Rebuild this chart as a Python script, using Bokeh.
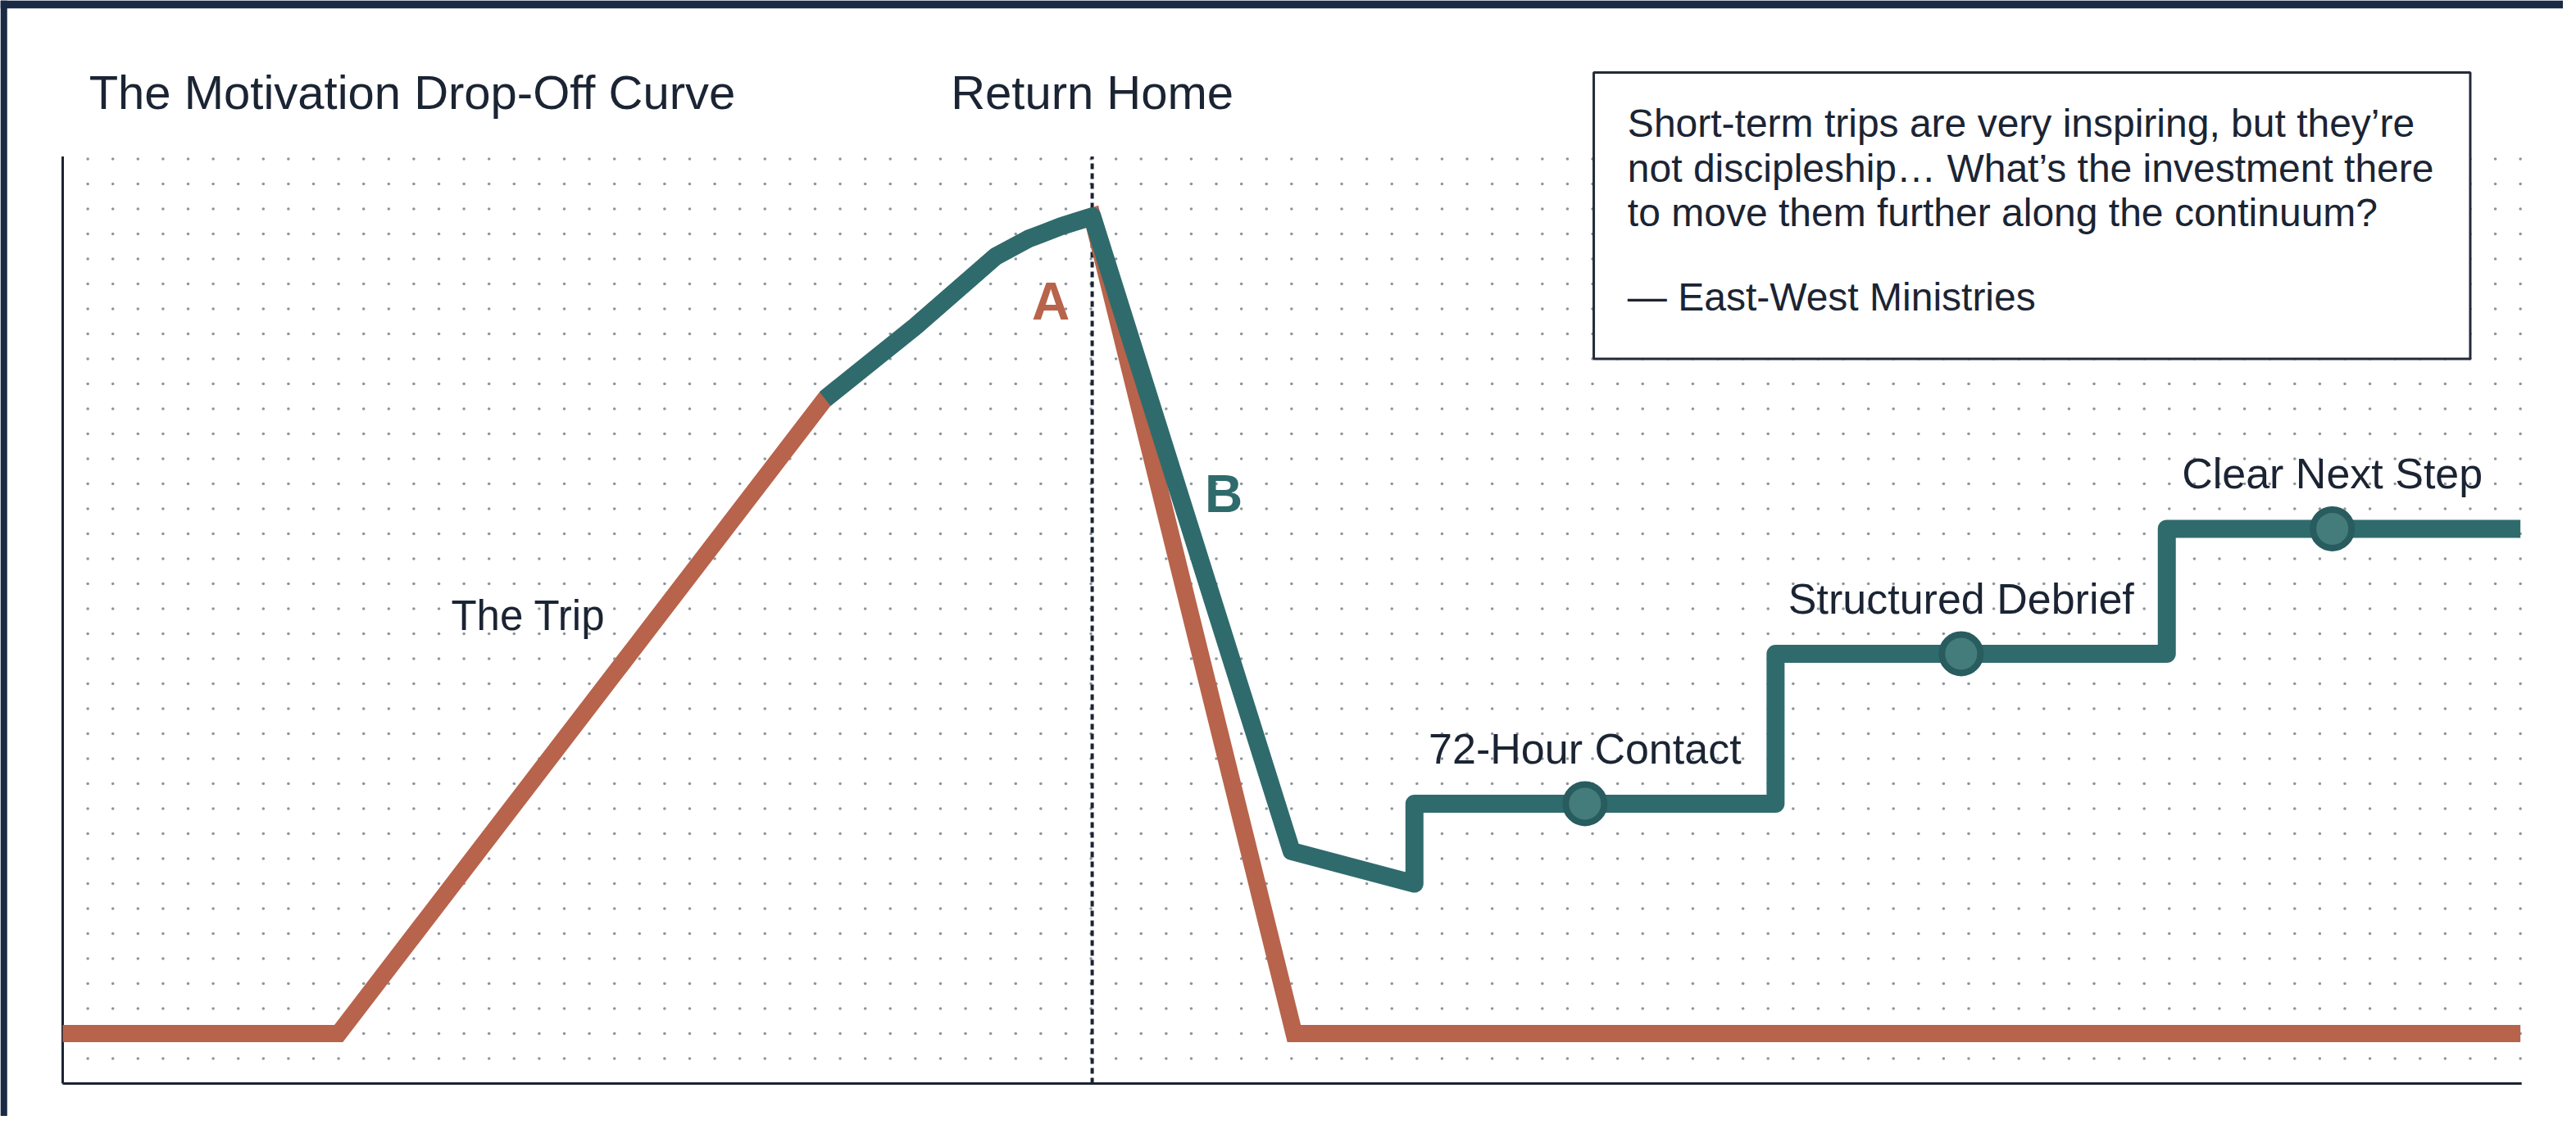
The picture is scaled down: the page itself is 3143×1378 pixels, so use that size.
from bokeh.plotting import figure
from bokeh.models import (Range1d, Label, LabelSet, ColumnDataSource, BoxAnnotation)
from bokeh.core.properties import value
from bokeh.embed import file_html
from bokeh.resources import INLINE
import numpy as np

# ---------------- data ----------------
# Curve A: motivation without follow-up
a_x = [0, 11.0, 30.4, 34.0, 37.2, 38.5, 39.8, 41.05, 49.1, 98.0]
a_y = [2, 2, 27.4, 30.3, 33.1, 33.8, 34.3, 34.7, 2, 2]
# Curve B: motivation with structured follow-up steps
b_x = [30.4, 34.0, 37.2, 38.5, 39.8, 41.05, 49.0, 53.9, 53.9, 68.3, 68.3, 83.9, 83.9, 98.0]
b_y = [27.4, 30.3, 33.1, 33.8, 34.3, 34.7, 9.3, 8.0, 11.2, 11.2, 17.2, 17.2, 22.2, 22.2]
# milestones on curve B
milestone_x = [60.7, 75.7, 90.5]
milestone_y = [11.2, 17.2, 22.2]
milestone_labels = ["72-Hour Contact", "Structured Debrief", "Clear Next Step"]
# return-home marker
return_home_x = 41.05
# axes extent
x_max = 98.05
y_max = 37.1

title_text = "The Motivation Drop-Off Curve"
return_text = "Return Home"
trip_text = "The Trip"
quote_lines = ["Short-term trips are very inspiring, but they\u2019re",
               "not discipleship\u2026 What\u2019s the investment there",
               "to move them further along the continuum?"]
quote_author = "\u2014 East-West Ministries"

# ---------------- style ----------------
ORANGE = "#b8634b"
TEAL = "#2f6b6c"
TEAL_FILL = "#447c7c"
TEAL_EDGE = "#285c5e"
INK = "#1b2433"
NAVY = "#182a44"
FONT = "Liberation Sans"

W, H = 3127, 1362
X0, X1 = -2.484, 99.71
Y0, Y1 = -1.311, 43.344
p = figure(width=W, height=H,
           x_range=Range1d(X0, X1), y_range=Range1d(Y0, Y1),
           x_axis_type=None, y_axis_type=None, min_border=0, title=None,
           toolbar_location=None, output_backend="svg")
p.outline_line_color = None
p.background_fill_color = "white"
p.border_fill_color = "white"

# dark page frame (left and top edges)
p.add_layout(BoxAnnotation(left=X0, right=X0 + 0.27, bottom=Y0, top=Y1,
                           fill_color=NAVY, fill_alpha=1.0, line_alpha=0))
p.add_layout(BoxAnnotation(left=X0, right=X1, bottom=Y1 - 0.32, top=Y1,
                           fill_color=NAVY, fill_alpha=1.0, line_alpha=0))

# dotted grid background
gx, gy = np.meshgrid(np.arange(1, 99), np.arange(1, 38))
p.scatter(gx.ravel(), gy.ravel(), size=3.6, color="#8f959c", line_color=None)

# axis lines at the data origin
p.segment(x0=[0, 0], y0=[0, 0], x1=[0, x_max], y1=[y_max, 0],
          line_color=INK, line_width=3)

# return-home dotted line
p.segment(x0=[return_home_x], y0=[0], x1=[return_home_x], y1=[y_max],
          line_color=INK, line_width=4, line_dash="7 5")

# curves
p.line(a_x, a_y, line_color=ORANGE, line_width=21, line_join="miter")
p.line(b_x, b_y, line_color=TEAL, line_width=22, line_join="round")
p.scatter(milestone_x, milestone_y, size=47, fill_color=TEAL_FILL,
          line_color=TEAL_EDGE, line_width=8)

# milestone labels
src = ColumnDataSource(dict(x=milestone_x, y=milestone_y, t=milestone_labels))
p.add_layout(LabelSet(x="x", y="y", text="t", source=src, y_offset=67,
                      text_align="center", text_baseline="middle",
                      text_font=value(FONT), text_font_size=value("52px"),
                      text_color=INK))

# curve letters
p.add_layout(Label(x=39.4, y=31.3, text="A", text_align="center", text_baseline="middle",
                   text_font=FONT, text_font_style="bold", text_font_size="64px",
                   text_color=ORANGE))
p.add_layout(Label(x=46.3, y=23.6, text="B", text_align="center", text_baseline="middle",
                   text_font=FONT, text_font_style="bold", text_font_size="64px",
                   text_color=TEAL))

# "The Trip"
p.add_layout(Label(x=18.56, y=18.72, text=trip_text, text_align="center",
                   text_baseline="middle", text_font=FONT, text_font_size="51px",
                   text_color=INK))

# titles
p.add_layout(Label(x=1.05, y=39.66, text=title_text, text_align="left",
                   text_baseline="middle", text_font=FONT, text_font_size="58px",
                   text_color=INK))
p.add_layout(Label(x=return_home_x, y=39.66, text=return_text, text_align="center",
                   text_baseline="middle", text_font=FONT, text_font_size="58px",
                   text_color=INK))

# quote box
p.add_layout(BoxAnnotation(left=61.05, right=96.0, bottom=29.0, top=40.46,
                           fill_color="white", fill_alpha=1.0,
                           line_color="#222b38", line_alpha=1.0, line_width=3))
for ln, yc in zip(quote_lines + [quote_author], [38.43, 36.62, 34.85, 31.48]):
    p.add_layout(Label(x=62.4, y=yc, text=ln, text_align="left",
                       text_baseline="middle", text_font=FONT,
                       text_font_size="48px", text_color=INK))

open("out.html", "w").write(file_html(p, INLINE))
